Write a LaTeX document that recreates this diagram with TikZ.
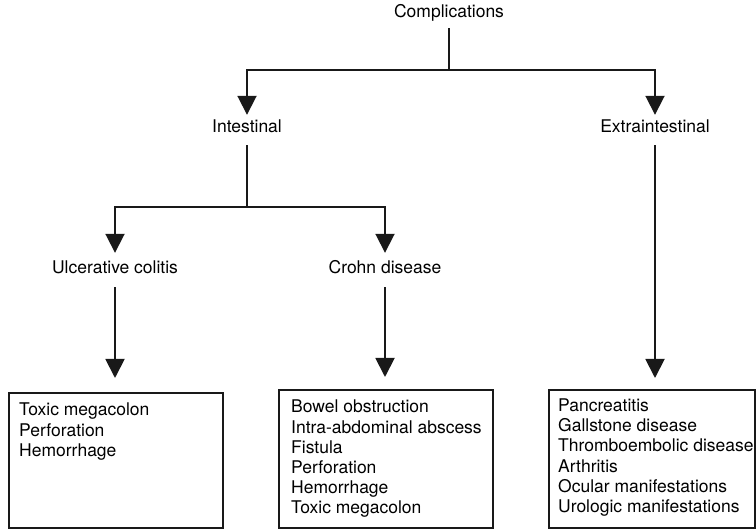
\documentclass[tikz,border=0pt]{standalone}
\usepackage{fontspec}
\setmainfont{TeX Gyre Heros}
\usetikzlibrary{arrows.meta}
\begin{document}
\begin{tikzpicture}[x=1pt,y=-1pt,
  lbl/.style={inner sep=0pt, anchor=base, text height=13pt, text depth=4pt, font=\fontsize{17.5pt}{20.4pt}\selectfont},
  ln/.style={line width=1.9pt, draw=black!90},
  arr/.style={ln, -{Triangle[width=19pt,length=19pt]}},
  boxn/.style={draw=black!90, line width=1.9pt, inner sep=0pt, anchor=north west},
  listtxt/.style={inner sep=0pt, anchor=base west, align=left, font=\fontsize{17.5pt}{20.4pt}\selectfont}]
\useasboundingbox (0,0) rectangle (756,529);
% labels
\node[lbl] (comp) at (449,18) {Complications};
\node[lbl] (int) at (247,133) {Intestinal};
\node[lbl] (ext) at (655,133) {Extraintestinal};
\node[lbl] (uc) at (115,274) {Ulcerative colitis};
\node[lbl] (cd) at (385,274) {Crohn disease};
% boxes
\node[boxn, minimum width=214pt, minimum height=135pt] (ucb) at (8,392) {};
\node[boxn, minimum width=214pt, minimum height=138pt] (cdb) at (278,389) {};
\node[boxn, minimum width=206pt, minimum height=138pt] (extb) at (548,389) {};
% anchor base west = baseline of the last line
\node[listtxt] (uct) at (19,456.8) {Toxic megacolon\\Perforation\\Hemorrhage};
\node[listtxt, font=\fontsize{17.5pt}{20.2pt}\selectfont] (cdt) at (291,514) {Bowel obstruction\\Intra-abdominal abscess\\Fistula\\Perforation\\Hemorrhage\\Toxic megacolon};
\node[listtxt] (extt) at (558,513) {Pancreatitis\\Gallstone disease\\Thromboembolic disease\\Arthritis\\Ocular manifestations\\Urologic manifestations};
% connectors
\coordinate (j1) at (449,70);
\coordinate (j2) at (247,207);
\draw[ln] ([yshift=-6pt]comp.south) -- (j1);
\draw[arr] (j1) -| ([yshift=5pt]int.north);
\draw[arr] (j1) -| ([yshift=5pt]ext.north);
\draw[ln] ([yshift=-8pt]int.south) -- (j2);
\draw[arr] (j2) -| ([yshift=8pt]uc.north);
\draw[arr] (j2) -| ([yshift=8pt]cd.north);
\draw[arr] ([yshift=-9pt]uc.south) -- ([yshift=14pt]ucb.north -| uc.south);
\draw[arr] ([yshift=-9pt]cd.south) -- ([yshift=12pt]cdb.north -| cd.south);
\draw[arr] ([yshift=-8pt]ext.south) -- ([yshift=11pt]extb.north -| ext.south);
\end{tikzpicture}
\end{document}
